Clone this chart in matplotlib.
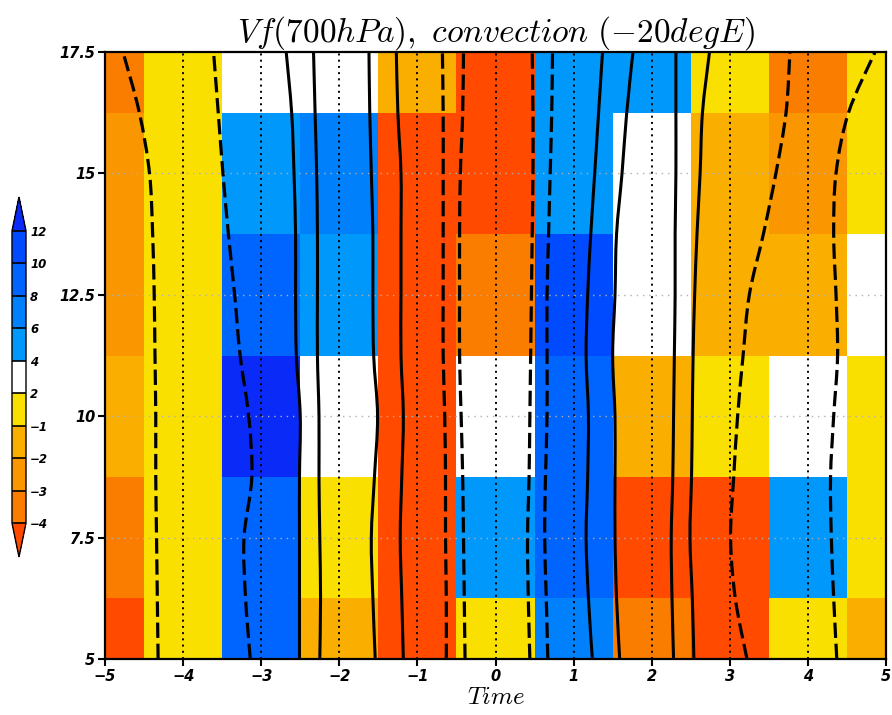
import numpy as np
import matplotlib
matplotlib.use("Agg")
import matplotlib.pyplot as plt
from matplotlib.colors import ListedColormap, BoundaryNorm
from matplotlib.path import Path
from matplotlib.patches import PathPatch

plt.rcParams['mathtext.fontset'] = 'cm'
plt.rcParams['font.family'] = ['DejaVu Sans']

# ---------------- data ----------------
x_centers = [-5, -4, -3, -2, -1, 0, 1, 2, 3, 4, 5]
y_centers = [5, 7.5, 10, 12.5, 15, 17.5]

# shaded field (rows: y = 5 ... 17.5, cols: x = -5 ... 5)
row_05_0 = [-5.0, 0.5, 9.0, -1.5, -5.0, 0.5, 7.0, -3.5, -5.0, 0.5, -1.5]
row_07_5 = [-3.5, 0.5, 9.0, 0.5, -5.0, 5.0, 9.0, -5.0, -5.0, 5.0, 0.5]
row_10_0 = [-1.5, 0.5, 13.0, 3.0, -5.0, 3.0, 9.0, -1.5, 0.5, 3.0, 0.5]
row_12_5 = [-2.5, 0.5, 9.0, 5.0, -5.0, -3.5, 11.0, 3.0, -1.5, -1.5, 3.0]
row_15_0 = [-2.5, 0.5, 5.0, 7.0, -5.0, -5.0, 5.0, 3.0, -1.5, -2.5, 0.5]
row_17_5 = [-3.5, 0.5, 3.0, 3.0, -1.5, -5.0, 5.0, 5.0, 0.5, -3.5, 0.5]

levels = [-4, -3, -2, -1, 2, 4, 6, 8, 10, 12]
level_labels = ['\u22124', '\u22123', '\u22122', '\u22121', '2', '4', '6', '8', '10', '12']
color_under = '#FF4A00'
colors_in = ['#FA7D00', '#FA9600', '#FAAF00', '#FAE000', '#FFFFFF',
             '#0098FA', '#0080FA', '#0064FF', '#004BFF']
color_over = '#0A2AF8'

# overlaid contour lines: x position of each line at these y values
line_y = [5, 6.25, 7.5, 8.75, 10, 11.25, 12.5, 13.75, 15, 16.25, 17.5]
line_x = [
    [-4.32, -4.33, -4.34, -4.35, -4.35, -4.36, -4.37, -4.39, -4.43, -4.56, -4.77],
    [-3.14, -3.20, -3.22, -3.12, -3.16, -3.27, -3.34, -3.42, -3.49, -3.55, -3.61],
    [-2.51, -2.51, -2.51, -2.51, -2.50, -2.55, -2.56, -2.56, -2.58, -2.61, -2.68],
    [-2.25, -2.24, -2.25, -2.26, -2.26, -2.28, -2.28, -2.28, -2.29, -2.31, -2.33],
    [-1.54, -1.57, -1.59, -1.55, -1.51, -1.56, -1.57, -1.57, -1.59, -1.61, -1.62],
    [-1.18, -1.20, -1.22, -1.20, -1.18, -1.21, -1.21, -1.21, -1.21, -1.25, -1.27],
    [-0.63, -0.63, -0.64, -0.64, -0.65, -0.67, -0.67, -0.67, -0.67, -0.67, -0.68],
    [-0.39, -0.40, -0.41, -0.42, -0.44, -0.46, -0.46, -0.46, -0.45, -0.42, -0.41],
    [0.44, 0.42, 0.41, 0.43, 0.44, 0.45, 0.46, 0.47, 0.48, 0.48, 0.47],
    [0.67, 0.65, 0.63, 0.64, 0.66, 0.66, 0.66, 0.68, 0.70, 0.72, 0.73],
    [1.24, 1.19, 1.16, 1.18, 1.19, 1.16, 1.18, 1.22, 1.27, 1.32, 1.37],
    [1.59, 1.55, 1.53, 1.53, 1.53, 1.50, 1.53, 1.55, 1.62, 1.68, 1.76],
    [2.28, 2.26, 2.25, 2.27, 2.28, 2.29, 2.30, 2.30, 2.31, 2.31, 2.31],
    [2.54, 2.52, 2.49, 2.51, 2.52, 2.53, 2.55, 2.58, 2.62, 2.65, 2.74],
    [3.22, 3.07, 3.01, 3.05, 3.10, 3.17, 3.25, 3.43, 3.59, 3.72, 3.77],
    [4.37, 4.33, 4.30, 4.29, 4.33, 4.38, 4.36, 4.33, 4.36, 4.52, 4.86],
]
line_dashed = [True, True, False, False, False, False, True, True,
               True, True, False, False, False, False, True, True]

x_ticks = [-5, -4, -3, -2, -1, 0, 1, 2, 3, 4, 5]
x_ticklabels = ['\u22125', '\u22124', '\u22123', '\u22122', '\u22121',
                '0', '1', '2', '3', '4', '5']
y_ticks = [5, 7.5, 10, 12.5, 15, 17.5]
y_ticklabels = ['5', '7.5', '10', '12.5', '15', '17.5']

title = r'$Vf(700hPa),\ convection\ (-20degE)$'
xlabel = r'$Time$'


def smooth_path(xs, ys):
    """Bezier (Catmull-Rom style) path through the given points."""
    pts = np.column_stack([xs, ys]).astype(float)
    n = len(pts)
    verts = [pts[0]]
    codes = [Path.MOVETO]
    for i in range(n - 1):
        p0 = pts[i - 1] if i > 0 else pts[i]
        p1 = pts[i]
        p2 = pts[i + 1]
        p3 = pts[i + 2] if i + 2 < n else pts[i + 1]
        c1 = p1 + (p2 - p0) / 6.0
        c2 = p2 - (p3 - p1) / 6.0
        verts += [c1, c2, p2]
        codes += [Path.CURVE4] * 3
    return Path(verts, codes)


# ---------------- plot ----------------
fig = plt.figure(figsize=(8.92, 7.15), dpi=100)
ax = fig.add_axes([105 / 892, 1 - 659 / 715, 781 / 892, 607 / 715])

Z = np.array([row_05_0, row_07_5, row_10_0, row_12_5, row_15_0, row_17_5])
cmap = ListedColormap(colors_in)
cmap.set_under(color_under)
cmap.set_over(color_over)
norm = BoundaryNorm(levels, ncolors=cmap.N)

mesh = ax.pcolormesh(x_centers, y_centers, Z, cmap=cmap, norm=norm,
                     shading='nearest', zorder=1)

ax.set_xlim(-5, 5)
ax.set_ylim(5, 17.5)

# interior grid lines
for xv in x_ticks[1:-1]:
    ax.axvline(xv, color='black', linestyle=(0, (1, 2.2)), linewidth=1.4, zorder=2)
for yv in y_ticks[1:-1]:
    ax.axhline(yv, color='#b0b0b0', linestyle=(0, (1, 3.5)), linewidth=1.0, zorder=2)

for xs, dashed in zip(line_x, line_dashed):
    patch = PathPatch(smooth_path(xs, line_y), fill=False, edgecolor='black',
                      transform=ax.transData, zorder=3,
                      lw=2.3 if dashed else 2.2,
                      linestyle=(0, (4.8, 1.8)) if dashed else '-',
                      capstyle='butt', joinstyle='round')
    ax.add_patch(patch)

ax.set_xticks(x_ticks)
ax.set_xticklabels(x_ticklabels)
ax.set_yticks(y_ticks)
ax.set_yticklabels(y_ticklabels)
ax.tick_params(axis='both', direction='out', length=5, width=1.5, pad=2,
               labelsize=10.5)
for lab in ax.get_xticklabels() + ax.get_yticklabels():
    lab.set_fontweight('bold')
    lab.set_fontstyle('oblique')
for sp in ax.spines.values():
    sp.set_linewidth(1.6)
    sp.set_zorder(5)

ax.set_title(title, fontsize=24, pad=7)
ax.set_xlabel(xlabel, fontsize=18, labelpad=1)

# colorbar on the left (axes covers triangles too)
cax = fig.add_axes([12 / 892, 1 - 557 / 715, 14 / 892, 360 / 715])
cb = fig.colorbar(mesh, cax=cax, extend='both', extendfrac=0.116,
                  drawedges=True, ticks=levels)
cb.set_ticklabels(level_labels)
cb.outline.set_linewidth(1.0)
cb.dividers.set_linewidth(1.2)
cax.tick_params(length=0, pad=3, labelsize=8.5)
for lab in cax.get_yticklabels():
    lab.set_fontweight('bold')
    lab.set_fontstyle('oblique')

fig.savefig('out.png', dpi=100)
